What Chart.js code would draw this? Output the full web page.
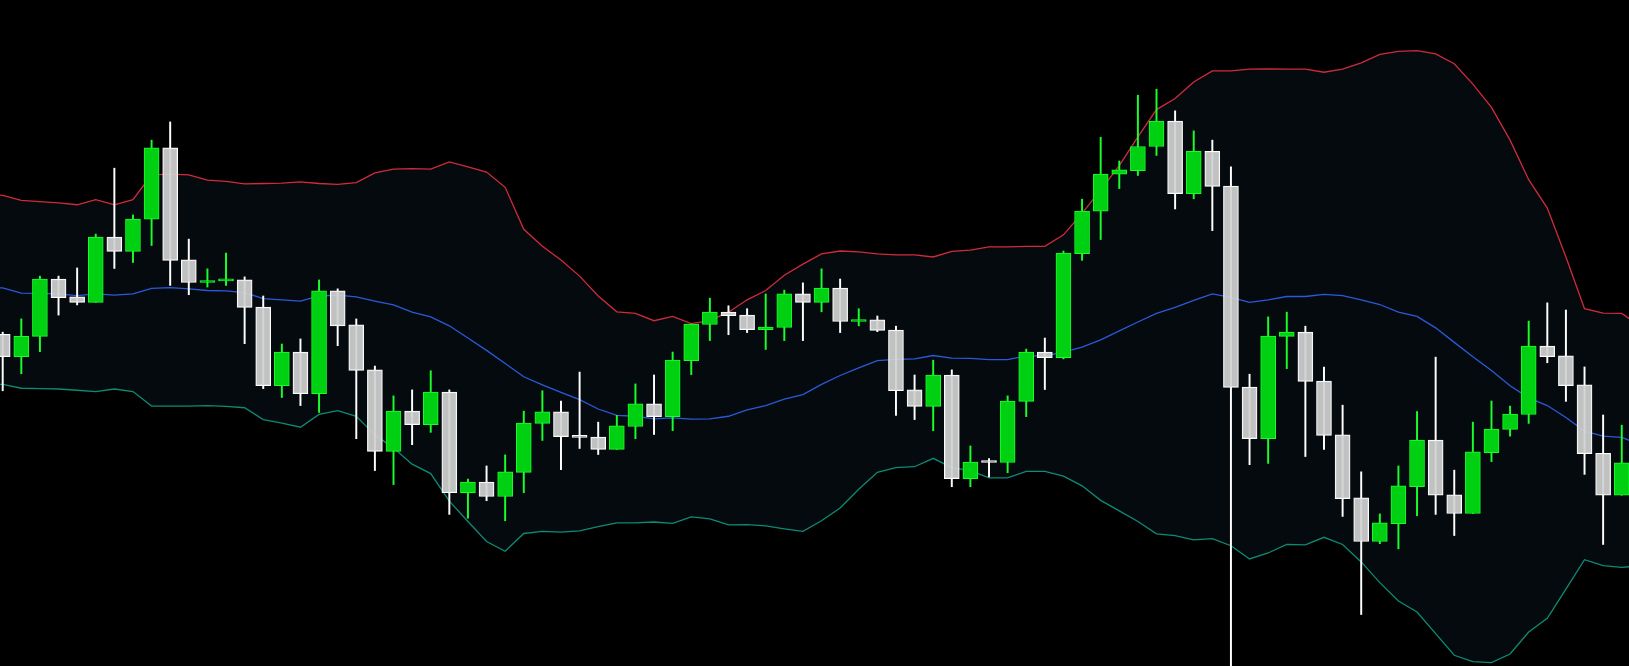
<!DOCTYPE html>
<html>
<head>
<meta charset="utf-8">
<script src="https://cdn.jsdelivr.net/npm/chart.js@4.4.1/dist/chart.umd.min.js"></script>
<style>
  html, body { margin: 0; padding: 0; background: #000; overflow: hidden; }
  canvas { display: block; }
</style>
</head>
<body>
<canvas id="candleChart" width="1629" height="666"></canvas>
<script>
// OHLC per candle (arbitrary price units)
const opens = [403.7, 386, 402, 447, 433, 428.7, 480, 468.7, 494, 550,
  462, 444.3, 445.5, 446.3, 425, 363.3, 389.7, 357, 437.7, 411,
  375.7, 311.7, 343.3, 332.7, 358.3, 279.3, 287.7, 276.3, 295.3, 333.7,
  342.7, 324, 323, 313.3, 331.3, 349, 339, 383, 411.3, 421,
  418.7, 407.3, 409, 435.3, 428.7, 440, 413.7, 415, 407, 360,
  347, 371.7, 290.3, 304.3, 303, 351, 389.7, 385.3, 467, 500.3,
  529.3, 532, 551, 571, 514, 547.3, 520, 362.3, 321.7, 402,
  405.3, 367, 324.7, 275.3, 241, 255, 284, 320.7, 277.7, 263,
  310.7, 329, 340.7, 394.3, 386.7, 364, 310.3, 277.3];
const highs = [405.3, 415.7, 449.3, 449.3, 455.7, 482.3, 534, 497.3, 556, 570.3,
  478.3, 455, 467.3, 448.7, 433.7, 396, 400, 446.3, 439.3, 415.7,
  378.7, 355.3, 360, 375, 360, 290, 300.3, 309, 343.3, 359.3,
  351.3, 374, 334.7, 340, 364.7, 371.7, 389.7, 411.7, 432, 426,
  423.7, 435.3, 438.3, 444, 455, 447, 423.7, 418, 410, 371.7,
  383.3, 375.7, 316, 306, 355.3, 392, 400.7, 469, 509.7, 558.3,
  539.7, 591.3, 596, 579, 563.3, 556, 535, 372.3, 417.3, 421,
  410, 378, 348, 295.7, 262.7, 300.3, 343, 385.7, 297, 334.7,
  351.3, 347.3, 414, 428.3, 422.7, 378, 340.3, 332.3];
const lows = [359.3, 372.7, 390, 418.7, 426.7, 428.7, 455.3, 460, 473.3, 442,
  434.7, 440.7, 442, 396.3, 361, 354, 347.7, 342.3, 394.7, 321.7,
  296.7, 285.7, 317, 326.7, 262.3, 259.3, 273, 257.3, 279.3, 320.3,
  297.3, 314, 309.3, 313.3, 321.7, 325, 328, 372, 398.7, 403.3,
  405, 391.7, 398.7, 398.7, 421.3, 405, 410.3, 405.7, 340, 336.7,
  328, 284, 284, 291.7, 295, 339, 360.3, 384.3, 461.7, 478,
  518, 528.3, 544, 502, 510, 485, 100, 301.3, 302.3, 376.7,
  307.7, 313.3, 260.7, 183.7, 239.3, 235.3, 261.3, 262.3, 245.7, 263,
  303.7, 323.7, 333.7, 381.3, 351, 293.7, 238.7, 277.3];
const closes = [386, 402, 447, 432.3, 428.7, 480, 468.7, 494, 550, 461.7,
  444.3, 445, 446.5, 424.7, 363.3, 389.7, 357, 437.7, 410.3, 375.3,
  311.7, 343.3, 332.7, 358.3, 279.3, 287.7, 276.3, 295.7, 334, 342.7,
  323.3, 322.7, 313.3, 331.7, 349, 339, 383.3, 411.7, 421, 418.3,
  407.3, 409.3, 435.3, 428.7, 440, 413.7, 415, 406.7, 359.3, 347,
  371.7, 290.3, 303.3, 303, 351.3, 389.7, 385.3, 467.3, 500.3, 529.3,
  532.7, 551, 571, 514, 547.3, 519.7, 362, 321.7, 402.3, 405.3,
  366.7, 324.3, 274.7, 241, 255.7, 284.7, 320.7, 277.3, 263, 311.3,
  329.3, 341, 394.3, 386, 363.3, 310, 277.3, 302.7];

// Bollinger bands: one extra point before the first candle and one after the
// last, both just outside the visible window
const upperBand = [513.5, 512.7, 508.7, 507.7, 506.7, 505.3, 509.3, 505.3, 509.3, 528.7, 529.3,
  528.7, 524.7, 523.7, 521.7, 522, 522.3, 523.3, 522, 521.3, 522.7,
  530.3, 533.3, 533.7, 533.3, 539, 535, 531, 519, 486, 472.7,
  462, 449.3, 433.7, 421.3, 420, 414.3, 417.7, 412, 414.3, 421,
  430.7, 438, 450, 458.7, 466.7, 469, 468.3, 466.7, 466, 466,
  464.3, 468.7, 469.7, 472.3, 472.3, 472.7, 472.7, 481.7, 498.5, 517,
  536, 558.5, 580, 588.7, 601.7, 610.3, 610.3, 611.7, 612, 611.7,
  611.7, 609.3, 611.7, 616.7, 623.3, 625.7, 626.3, 623.7, 616, 600,
  581.7, 556, 525, 502.7, 464.3, 423.7, 420.3, 420, 410];
const middleBand = [440.5, 440, 436, 435.7, 435.3, 434, 435.3, 434.3, 435.3, 439.7, 440.3,
  439.3, 438, 437.7, 436.3, 431.7, 430.7, 429.7, 433.7, 434.3, 433,
  429.7, 426.7, 421, 417.3, 410.3, 400.7, 391, 380.7, 370.3, 364,
  358, 352.3, 345, 340, 339.3, 337.3, 338, 337, 337.3, 339.3,
  344.3, 347.7, 352.7, 356.3, 364.3, 371.3, 377.3, 383, 384, 384.3,
  387, 385, 384.7, 383.7, 383.7, 386.7, 386.7, 389.7, 393.5, 399.3,
  406.3, 413.3, 420, 424.7, 430.3, 435.3, 432.7, 428.7, 430.7, 433.3,
  433.3, 435, 434, 430.7, 427, 421, 417.7, 408.7, 397.3, 386,
  375.3, 363.3, 353.7, 347.7, 338.3, 327.7, 323.7, 322.7, 317];
const lowerBand = [364.7, 364.3, 361.3, 361, 360.7, 359.7, 358.7, 360.7, 358.7, 347.3, 347.3,
  347.3, 347.7, 347, 346, 336.7, 334, 330.7, 340.7, 343.7, 339.3,
  324.7, 314.3, 301.7, 294.3, 272.7, 256.7, 241, 233.3, 247.3, 249,
  248.3, 249.3, 252.7, 255.7, 255.7, 256.3, 255.3, 260.3, 258.7, 254,
  254.3, 253.3, 251, 249, 257.3, 267.3, 282, 295.3, 299, 299.7,
  306.3, 299, 296.7, 291, 291, 296, 296, 292.3, 284.7, 273.3,
  265, 256.7, 247, 245.7, 242.3, 243.3, 237.7, 227.3, 232, 238.7,
  238.3, 244.3, 238.7, 225, 208.7, 194.3, 185.7, 168.7, 151.7, 146.7,
  146, 152.7, 170, 180.7, 203.7, 226.7, 222, 220.7, 222];

const upColor = '#00d012', upEdge = '#19ff2a';
const downColor = 'rgba(208, 209, 208, 0.92)', downEdge = '#ffffff';

const isUp = opens.map((o, i) => closes[i] >= o);

const bodies = opens.map((o, i) => ({ x: i, y: [o, closes[i]] }));
const wicks = opens.map((o, i) => ({ x: i, y: [lows[i], highs[i]] }));
// band arrays start one slot before candle 0
const band = arr => arr.map((v, i) => ({ x: i - 1, y: v }));

const ctx = document.getElementById('candleChart').getContext('2d');
new Chart(ctx, {
  type: 'bar',
  data: {
    datasets: [
      {
        label: 'body',
        data: bodies,
        backgroundColor: isUp.map(u => u ? upColor : downColor),
        borderColor: isUp.map(u => u ? upEdge : downEdge),
        borderWidth: 1,
        borderSkipped: false,
        barThickness: 15,
        minBarLength: 2,
        grouped: false,
        order: 0
      },
      {
        label: 'wick',
        data: wicks,
        backgroundColor: isUp.map(u => u ? upEdge : downEdge),
        borderWidth: 0,
        barThickness: 1.3,
        grouped: false,
        order: 1
      },
      {
        type: 'line',
        label: 'upper',
        data: band(upperBand),
        borderColor: '#d12b3b',
        backgroundColor: '#050a0f',
        borderWidth: 1.3,
        pointRadius: 0,
        fill: '+2',
        order: 2
      },
      {
        type: 'line',
        label: 'middle',
        data: band(middleBand),
        borderColor: '#2a5ad9',
        borderWidth: 1.3,
        pointRadius: 0,
        fill: false,
        order: 2
      },
      {
        type: 'line',
        label: 'lower',
        data: band(lowerBand),
        borderColor: '#0f8a74',
        borderWidth: 1.3,
        pointRadius: 0,
        fill: false,
        order: 2
      }
    ]
  },
  options: {
    responsive: false,
    animation: false,
    layout: { padding: 0 },
    scales: {
      x: { type: 'linear', min: -0.145, max: 87.39, offset: false, display: false, grid: { display: false } },
      y: { min: 143.3, max: 666, display: false, grid: { display: false } }
    },
    plugins: {
      legend: { display: false },
      tooltip: { enabled: false },
      filler: { drawTime: 'beforeDatasetsDraw' }
    }
  }
});
</script>
</body>
</html>
